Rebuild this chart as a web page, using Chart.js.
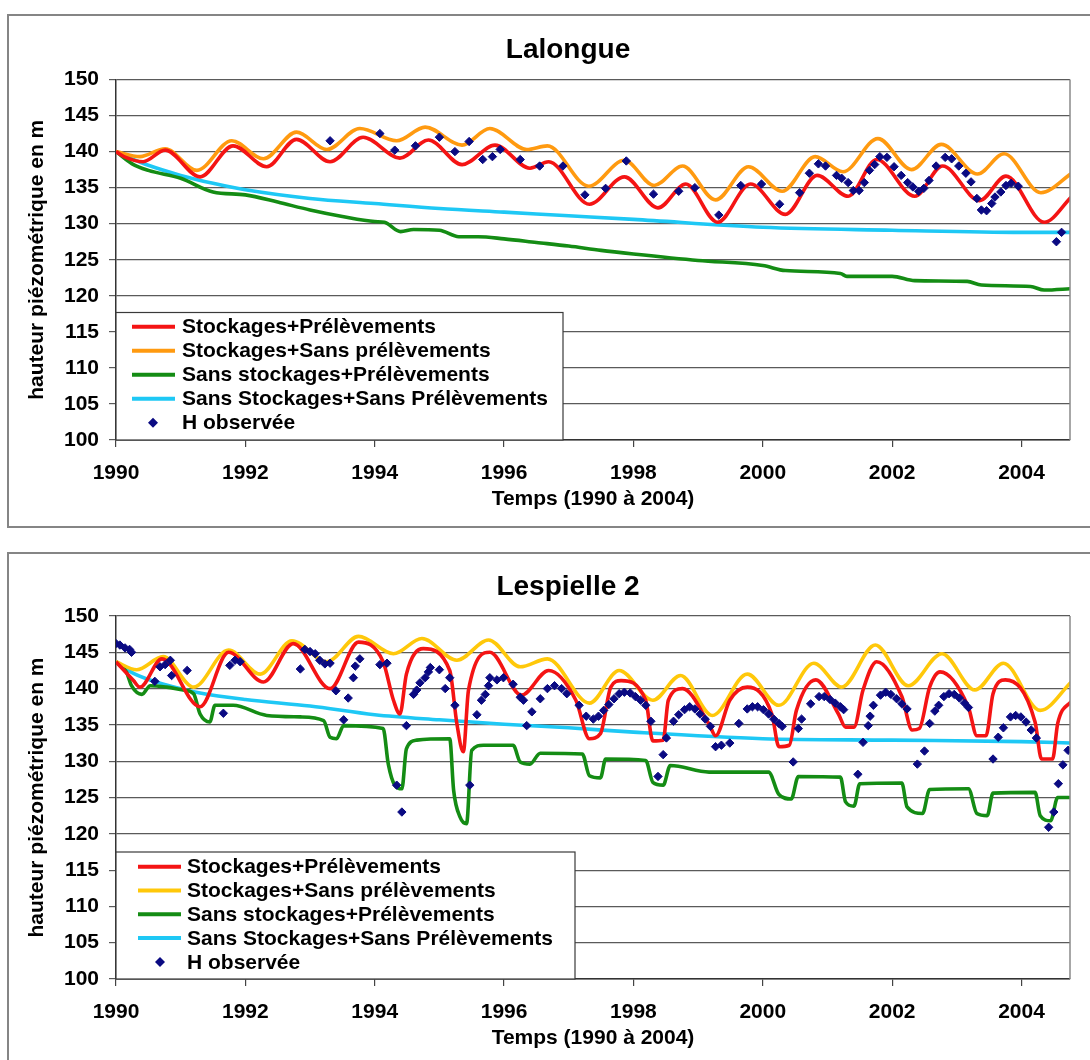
<!DOCTYPE html>
<html><head><meta charset="utf-8">
<script src="https://cdn.jsdelivr.net/npm/chart.js@4.4.1/dist/chart.umd.min.js"></script>
<style>
html,body{margin:0;padding:0;background:#fff;overflow:hidden;width:1090px;height:1060px;position:relative;}
.frame{position:absolute;border:2px solid #858585;box-sizing:border-box;}
canvas{position:absolute;left:0;}
</style></head><body>
<div class="frame" style="left:7px;top:14px;width:1110px;height:514px"></div>
<div class="frame" style="left:7px;top:552px;width:1110px;height:530px"></div>
<canvas id="c1" width="1090" height="540" style="top:0"></canvas>
<canvas id="c2" width="1090" height="520" style="top:540px"></canvas>
<script>
// ---------- axis ticks & labels ----------
const yearTicks = [1990, 1992, 1994, 1996, 1998, 2000, 2002, 2004];
const heightTicks = [100, 105, 110, 115, 120, 125, 130, 135, 140, 145, 150];
const seriesLabels = ['Stockages+Prélèvements', 'Stockages+Sans prélèvements', 'Sans stockages+Prélèvements', 'Sans Stockages+Sans Prélèvements', 'H observée'];

// ---------- Lalongue ----------
const lalongueStockPrel = [[1990.00,140.0],[1990.15,139.2],[1990.42,138.6],[1990.76,140.2],[1991.30,136.5],[1991.81,140.8],[1992.33,137.9],[1992.79,141.7],[1993.31,138.6],[1993.82,142.0],[1994.39,139.1],[1994.83,141.6],[1995.35,138.2],[1995.86,140.9],[1996.40,137.7],[1996.69,138.6],[1997.32,132.7],[1997.86,136.5],[1998.38,132.2],[1998.81,135.5],[1999.30,130.2],[1999.81,135.5],[2000.35,131.3],[2000.84,136.7],[2001.32,133.8],[2001.76,138.9],[2002.35,133.8],[2002.78,138.0],[2003.35,133.2],[2003.76,136.6],[2004.35,130.2],[2004.78,133.8]];
const lalongueStockSansPrel = [[1990.00,140.0],[1990.37,139.3],[1990.76,140.4],[1991.25,137.4],[1991.79,141.5],[1992.28,139.0],[1992.79,142.7],[1993.26,140.3],[1993.77,143.2],[1994.34,141.5],[1994.78,143.4],[1995.35,140.9],[1995.78,143.2],[1996.35,140.3],[1996.67,140.8],[1997.31,135.2],[1997.86,138.8],[1998.32,135.3],[1998.76,138.0],[1999.27,133.3],[1999.78,137.9],[2000.30,134.5],[2000.81,139.3],[2001.24,137.2],[2001.78,141.8],[2002.30,137.5],[2002.76,141.0],[2003.32,136.9],[2003.73,139.7],[2004.30,134.3],[2004.78,137.0]];
const lalongueSansStockPrel = [[1990.00,140.0],[1990.25,138.3],[1990.50,137.4],[1991.00,136.3],[1991.50,134.4],[1992.00,134.0],[1992.50,133.0],[1993.00,131.9],[1993.50,131.0],[1994.00,130.3],[1994.15,130.2],[1994.40,128.9],[1994.60,129.2],[1995.00,129.1],[1995.30,128.2],[1995.60,128.2],[1996.00,127.9],[1996.50,127.4],[1997.00,126.9],[1997.50,126.3],[1998.00,125.8],[1999.00,124.9],[2000.00,124.2],[2000.35,123.5],[2001.20,123.1],[2001.30,122.7],[2002.00,122.7],[2002.35,122.1],[2003.16,122.0],[2003.38,121.5],[2004.14,121.3],[2004.35,120.8],[2004.78,121.0]];
const lalongueSansStockSansPrel = [[1990.00,140.0],[1990.25,139.0],[1990.50,138.1],[1991.00,136.7],[1991.50,135.6],[1992.00,134.7],[1993.00,133.5],[1994.00,132.8],[1995.00,132.1],[1996.00,131.6],[1997.00,131.1],[1998.00,130.6],[2000.00,129.5],[2002.00,129.1],[2004.00,128.8],[2004.78,128.8]];
const lalongueObserved = [[1993.31,141.5],[1994.08,142.5],[1994.31,140.2],[1994.63,140.8],[1995.00,142.0],[1995.24,140.0],[1995.46,141.4],[1995.67,138.9],[1995.82,139.3],[1995.94,140.3],[1996.25,138.9],[1996.55,138.0],[1996.91,138.0],[1997.25,134.0],[1997.57,134.9],[1997.89,138.7],[1998.31,134.1],[1998.70,134.5],[1998.95,135.0],[1999.32,131.2],[1999.66,135.3],[1999.98,135.5],[2000.26,132.7],[2000.57,134.3],[2000.72,137.0],[2000.86,138.3],[2000.97,138.0],[2001.14,136.7],[2001.22,136.3],[2001.32,135.7],[2001.40,134.6],[2001.49,134.6],[2001.57,135.7],[2001.65,137.4],[2001.73,138.2],[2001.81,139.3],[2001.92,139.2],[2002.03,137.9],[2002.14,136.7],[2002.24,135.7],[2002.32,135.1],[2002.41,134.5],[2002.49,134.9],[2002.57,136.0],[2002.68,138.0],[2002.82,139.2],[2002.92,139.0],[2003.03,138.0],[2003.14,137.0],[2003.22,135.8],[2003.31,133.5],[2003.38,131.9],[2003.46,131.8],[2003.54,132.8],[2003.59,133.7],[2003.68,134.4],[2003.76,135.3],[2003.84,135.6],[2003.95,135.2],[2004.54,127.5],[2004.62,128.8]];

// ---------- Lespielle 2 ----------
const lespielleStockPrel = [[1990.00,143.7],[1990.27,141.1],[1990.37,140.2],[1990.71,144.1],[1991.30,137.5],[1991.74,145.0],[1992.28,140.9],[1992.74,146.2],[1993.31,140.0],[1993.75,146.4],[1994.13,143.7],[1994.29,138.4],[1994.39,136.5],[1994.49,142.0],[1994.75,145.5],[1995.16,142.5],[1995.27,135.2],[1995.37,131.3],[1995.45,139.8],[1995.78,145.0],[1996.27,139.1],[1996.69,142.5],[1997.11,138.4],[1997.32,133.1],[1997.49,133.8],[1997.65,140.2],[1997.81,141.1],[1998.19,138.4],[1998.30,132.8],[1998.46,132.9],[1998.54,138.4],[1998.76,140.0],[1999.17,135.1],[1999.27,133.5],[1999.49,138.4],[1999.76,140.2],[2000.14,136.5],[2000.25,132.0],[2000.41,132.2],[2000.52,137.0],[2000.82,141.2],[2001.17,136.5],[2001.28,134.7],[2001.41,134.7],[2001.55,139.8],[2001.76,143.7],[2002.15,138.9],[2002.31,134.3],[2002.42,134.5],[2002.58,140.2],[2002.74,142.3],[2003.18,137.4],[2003.31,133.5],[2003.45,133.5],[2003.56,139.3],[2003.75,141.2],[2004.21,135.4],[2004.31,130.3],[2004.48,130.3],[2004.56,135.2],[2004.78,138.4]];
const lespielleStockSansPrel = [[1990.00,143.7],[1990.32,142.6],[1990.73,144.4],[1991.20,140.2],[1991.74,145.3],[1992.23,142.0],[1992.72,146.6],[1993.26,143.7],[1993.75,147.2],[1994.29,144.8],[1994.73,146.9],[1995.27,143.9],[1995.76,146.7],[1996.25,143.0],[1996.67,144.1],[1997.32,138.0],[1997.78,142.5],[1998.30,138.4],[1998.73,141.8],[1999.22,136.3],[1999.76,142.0],[2000.25,137.7],[2000.79,143.5],[2001.22,140.2],[2001.74,146.0],[2002.25,140.4],[2002.77,144.8],[2003.28,139.8],[2003.72,143.5],[2004.29,137.0],[2004.78,141.0]];
const lespielleSansStockPrel = [[1990.00,143.7],[1990.16,142.3],[1990.24,140.4],[1990.40,139.2],[1990.53,140.4],[1990.78,140.2],[1991.04,139.8],[1991.20,139.3],[1991.30,136.5],[1991.45,135.4],[1991.53,137.7],[1991.81,137.7],[1992.33,136.3],[1992.85,136.1],[1993.21,135.6],[1993.31,133.3],[1993.41,133.1],[1993.52,134.9],[1994.13,134.5],[1994.21,129.6],[1994.31,126.7],[1994.42,126.2],[1994.49,131.7],[1994.65,132.9],[1995.16,133.1],[1995.22,126.0],[1995.32,122.3],[1995.42,121.4],[1995.50,131.5],[1995.68,132.2],[1996.14,132.2],[1996.25,129.9],[1996.40,129.6],[1996.56,131.1],[1997.21,131.0],[1997.32,128.0],[1997.49,127.7],[1997.57,130.3],[1998.19,130.1],[1998.30,127.1],[1998.46,126.7],[1998.57,129.4],[1999.17,128.5],[2000.09,128.5],[2000.25,125.4],[2000.44,124.8],[2000.55,127.9],[2001.20,127.8],[2001.28,124.4],[2001.41,123.8],[2001.50,126.9],[2002.15,127.0],[2002.23,123.7],[2002.47,122.8],[2002.58,126.1],[2003.18,126.2],[2003.31,122.8],[2003.47,122.5],[2003.56,125.6],[2004.21,125.7],[2004.29,122.5],[2004.45,121.8],[2004.56,125.0],[2004.78,125.0]];
const lespielleSansStockSansPrel = [[1990.00,143.7],[1990.27,142.1],[1990.78,140.5],[1991.30,139.4],[1992.00,138.5],[1993.00,137.6],[1994.00,136.4],[1995.00,135.7],[1996.00,135.1],[1997.00,134.6],[1998.00,134.0],[2000.00,133.1],[2002.00,132.9],[2004.00,132.7],[2004.78,132.5]];
const lespielleObserved = [[1990.00,146.2],[1990.06,146.0],[1990.14,145.6],[1990.21,145.4],[1990.24,145.0],[1990.60,141.0],[1990.68,143.0],[1990.76,143.3],[1990.84,143.9],[1990.86,141.8],[1991.10,142.5],[1991.66,136.6],[1991.76,143.2],[1991.84,143.9],[1991.92,143.7],[1992.85,142.7],[1992.92,145.4],[1993.00,145.1],[1993.08,144.8],[1993.15,143.9],[1993.23,143.4],[1993.31,143.5],[1993.40,139.7],[1993.52,135.7],[1993.59,138.7],[1993.67,141.5],[1993.70,143.1],[1993.77,144.1],[1994.08,143.3],[1994.19,143.5],[1994.34,126.7],[1994.42,123.0],[1994.49,134.9],[1994.60,139.2],[1994.65,139.8],[1994.70,140.8],[1994.78,141.5],[1994.83,142.3],[1994.86,142.9],[1995.00,142.6],[1995.09,140.0],[1995.16,141.5],[1995.24,137.7],[1995.47,126.7],[1995.58,136.4],[1995.65,138.4],[1995.71,139.2],[1995.76,140.4],[1995.78,141.5],[1995.89,141.2],[1995.99,141.5],[1996.14,140.6],[1996.25,138.8],[1996.30,138.4],[1996.35,134.9],[1996.43,136.8],[1996.56,138.6],[1996.67,140.0],[1996.78,140.4],[1996.89,140.0],[1996.97,139.3],[1997.16,137.7],[1997.27,136.2],[1997.38,135.8],[1997.46,136.2],[1997.54,137.0],[1997.62,137.8],[1997.70,138.6],[1997.78,139.3],[1997.86,139.5],[1997.95,139.4],[1998.03,138.9],[1998.11,138.4],[1998.19,137.7],[1998.27,135.5],[1998.38,127.9],[1998.46,130.9],[1998.51,133.2],[1998.62,135.5],[1998.70,136.4],[1998.79,137.1],[1998.87,137.5],[1998.95,137.2],[1999.03,136.5],[1999.11,135.8],[1999.19,134.8],[1999.27,132.0],[1999.36,132.2],[1999.49,132.5],[1999.63,135.2],[1999.76,137.2],[1999.84,137.5],[1999.92,137.5],[2000.01,137.1],[2000.09,136.5],[2000.17,135.8],[2000.25,135.2],[2000.30,134.8],[2000.47,129.9],[2000.55,134.5],[2000.60,135.8],[2000.74,137.9],[2000.87,138.9],[2000.95,138.9],[2001.04,138.5],[2001.12,138.0],[2001.20,137.5],[2001.25,137.1],[2001.47,128.2],[2001.55,132.6],[2001.63,134.9],[2001.66,136.2],[2001.71,137.7],[2001.82,139.1],[2001.90,139.5],[2001.98,139.2],[2002.07,138.6],[2002.15,137.9],[2002.23,137.2],[2002.39,129.6],[2002.50,131.4],[2002.58,135.2],[2002.66,136.9],[2002.72,137.7],[2002.80,138.9],[2002.88,139.3],[2002.96,139.2],[2003.04,138.7],[2003.12,138.0],[2003.18,137.4],[2003.56,130.3],[2003.64,133.3],[2003.72,134.6],[2003.83,136.1],[2003.91,136.3],[2003.99,136.1],[2004.07,135.4],[2004.15,134.3],[2004.23,133.2],[2004.42,120.9],[2004.50,123.0],[2004.57,126.9],[2004.64,129.5],[2004.72,131.5]];

// ---------- rendering ----------
const FONT = '"Liberation Sans", Arial, Helvetica, sans-serif';
Chart.defaults.font.family = FONT;
Chart.defaults.font.weight = 'bold';
Chart.defaults.color = '#000';

const framePlugin = {
  id: 'framePlugin',
  afterDatasetsDraw(chart, args, o) {
    const ctx = chart.ctx, a = chart.chartArea;
    ctx.save();
    // right border of plot area
    ctx.strokeStyle = '#8a8a8a'; ctx.lineWidth = 1.5;
    ctx.beginPath(); ctx.moveTo(a.right, a.top); ctx.lineTo(a.right, a.bottom); ctx.stroke();
    // legend box
    ctx.fillStyle = '#fff';
    ctx.fillRect(a.left, o.legendTop, o.legendRight - a.left, a.bottom - o.legendTop);
    ctx.strokeStyle = '#3a3a3a'; ctx.lineWidth = 1.2;
    ctx.strokeRect(a.left, o.legendTop, o.legendRight - a.left, a.bottom - o.legendTop);
    ctx.font = 'bold 21px ' + FONT;
    ctx.textBaseline = 'middle'; ctx.textAlign = 'left';
    chart.data.datasets.forEach((ds, i) => {
      const y = o.rowFirst + i * o.rowGap;
      if (ds.showLine === false) {
        const r = 5, mx = o.markerX;
        ctx.fillStyle = ds.backgroundColor;
        ctx.beginPath(); ctx.moveTo(mx - r, y); ctx.lineTo(mx, y - r); ctx.lineTo(mx + r, y); ctx.lineTo(mx, y + r); ctx.closePath(); ctx.fill();
      } else {
        ctx.strokeStyle = ds.borderColor; ctx.lineWidth = 4;
        ctx.beginPath(); ctx.moveTo(o.lineX0, y); ctx.lineTo(o.lineX1, y); ctx.stroke();
      }
      ctx.fillStyle = '#000';
      ctx.fillText(ds.label, o.textX, y + 1);
    });
    // chart title
    ctx.font = 'bold 28px ' + FONT;
    ctx.textAlign = 'center'; ctx.textBaseline = 'alphabetic';
    ctx.fillText(o.title, o.titleX, o.titleY);
    ctx.restore();
  }
};

function buildChart(id, sets, colors, geo) {
  const toXY = arr => arr.map(p => ({x: p[0], y: p[1]}));
  const datasets = [];
  for (let i = 0; i < 4; i++) {
    datasets.push({
      label: seriesLabels[i], data: toXY(sets[i]),
      borderColor: colors[i], backgroundColor: colors[i],
      borderWidth: 3.6, pointRadius: 0, fill: false,
      cubicInterpolationMode: 'monotone', order: i + 1
    });
  }
  datasets.push({
    label: seriesLabels[4], data: toXY(sets[4]), showLine: false,
    pointStyle: 'rectRot', pointRadius: 4.2, pointBorderWidth: 1,
    borderColor: colors[4], backgroundColor: colors[4],
    pointBackgroundColor: colors[4], pointBorderColor: colors[4], order: 0
  });
  return new Chart(document.getElementById(id), {
    type: 'line',
    data: {datasets},
    options: {
      responsive: false, animation: false, devicePixelRatio: 1,
      layout: {padding: {left: 21, right: 20, top: geo.top, bottom: geo.bottom}},
      plugins: {legend: {display: false}, tooltip: {enabled: false}, title: {display: false}, framePlugin: geo},
      scales: {
        x: {
          type: 'linear', min: 1990, max: 2004.75,
          afterBuildTicks: s => { s.ticks = yearTicks.map(v => ({value: v})); },
          afterFit: s => { s.height = 76; },
          grid: {drawOnChartArea: false, drawTicks: true, tickLength: 7, color: '#444', lineWidth: 1.2},
          border: {display: true, color: '#333', width: 1.5},
          ticks: {padding: 14, font: {size: 21, weight: 'bold'}, color: '#000', maxRotation: 0, autoSkip: false, callback: v => String(v)},
          title: {display: true, text: 'Temps (1990 à 2004)', font: {size: 21, weight: 'bold'}, color: '#000', padding: 4}
        },
        y: {
          type: 'linear', min: 100, max: 150,
          afterBuildTicks: s => { s.ticks = heightTicks.map(v => ({value: v})); },
          afterFit: s => { s.width = 95; },
          grid: {color: '#5a5a5a', lineWidth: 1.2, tickLength: 7},
          border: {display: true, color: '#333', width: 1.5},
          ticks: {padding: 10, font: {size: 21, weight: 'bold'}, color: '#000', callback: v => String(v)},
          title: {display: true, text: 'hauteur piézométrique en m', font: {size: 21, weight: 'bold'}, color: '#000', padding: 4}
        }
      }
    },
    plugins: [framePlugin]
  });
}

buildChart('c1',
  [lalongueStockPrel, lalongueStockSansPrel, lalongueSansStockPrel, lalongueSansStockSansPrel, lalongueObserved],
  ['#F41414', '#FF9A10', '#148C14', '#1EC8F5', '#0A0A82'],
  {top: 79.5, bottom: 24, title: 'Lalongue', titleX: 568, titleY: 58,
   legendTop: 312.5, legendRight: 563, rowFirst: 326.7, rowGap: 24, lineX0: 132, lineX1: 175, markerX: 153, textX: 182});

buildChart('c2',
  [lespielleStockPrel, lespielleStockSansPrel, lespielleSansStockPrel, lespielleSansStockSansPrel, lespielleObserved],
  ['#F41414', '#FFC80A', '#148C14', '#1EC8F5', '#0A0A82'],
  {top: 76, bottom: 5, title: 'Lespielle 2', titleX: 568, titleY: 55,
   legendTop: 312, legendRight: 575, rowFirst: 326.7, rowGap: 23.8, lineX0: 138, lineX1: 181, markerX: 160, textX: 187});
</script></body></html>
